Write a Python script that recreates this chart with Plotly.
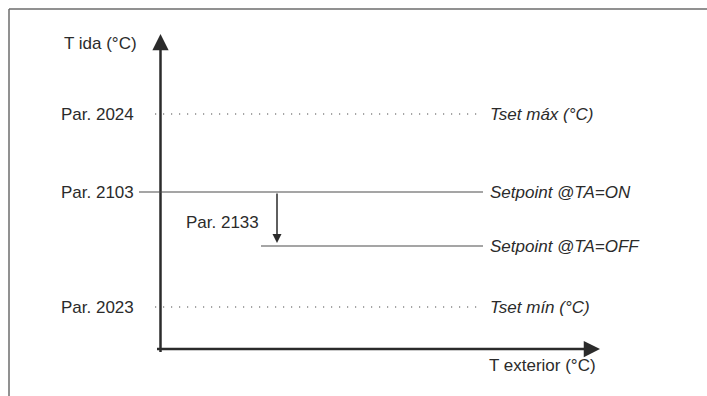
import plotly.graph_objects as go

# schematic levels (origin of the axes = 0,0)
level_names = ["Tset máx (°C)", "Setpoint @TA=ON", "Setpoint @TA=OFF", "Tset mín (°C)"]
level_params = ["Par. 2024", "Par. 2103", "", "Par. 2023"]
level_values = [235, 157, 103, 42]
level_start = [-5.5, -21.5, 100.5, -5.5]
level_end = [322.5, 322.5, 322.5, 322.5]
level_dash = ["1.2px,6.8px", "solid", "solid", "1.2px,6.8px"]

x_axis_end = 439.5
y_axis_end = 315
drop_x = 116.5
drop_label = "Par. 2133"

font_family = "Liberation Sans, Arial, sans-serif"
fsize = 17
ink = "#2b2b2b"
grey = "#4d4d4d"

fig = go.Figure()

# axes
fig.add_trace(go.Scatter(x=[-3.5, x_axis_end - 8], y=[0, 0], mode="lines",
                         line=dict(color=ink, width=2.5), hoverinfo="skip"))
fig.add_trace(go.Scatter(x=[0, 0], y=[-3, y_axis_end - 8], mode="lines",
                         line=dict(color=ink, width=2.5), hoverinfo="skip"))

# level lines
for name, par, v, x0, x1, dash in zip(level_names, level_params, level_values,
                                      level_start, level_end, level_dash):
    fig.add_trace(go.Scatter(x=[x0, x1], y=[v, v], mode="lines",
                             line=dict(color=grey, width=1.2, dash=dash),
                             hoverinfo="skip"))
    fig.add_annotation(x=x1 + 5, y=v, text=name, showarrow=False, xanchor="left",
                       font=dict(family=font_family, size=fsize, color=ink,
                                 style="italic"))
    if par:
        fig.add_annotation(x=-25, y=v, text=par, showarrow=False, xanchor="right",
                           font=dict(family=font_family, size=fsize, color=ink))

# arrowheads of the axes
fig.add_annotation(x=x_axis_end, y=0, ax=x_axis_end - 12, ay=0, axref="x", ayref="y",
                   text="", showarrow=True, arrowhead=2, arrowsize=1.3, arrowwidth=2.5,
                   arrowcolor=ink)
fig.add_annotation(x=0, y=y_axis_end, ax=0, ay=y_axis_end - 12, axref="x", ayref="y",
                   text="", showarrow=True, arrowhead=2, arrowsize=1.3, arrowwidth=2.5,
                   arrowcolor=ink)

# drop arrow between setpoints
fig.add_annotation(x=drop_x, y=level_values[2] + 3, ax=drop_x, ay=level_values[1],
                   axref="x", ayref="y", text="", showarrow=True, arrowhead=2,
                   arrowsize=1.2, arrowwidth=1.5, arrowcolor=ink)
fig.add_annotation(x=23.5, y=127, text=drop_label, showarrow=False, xanchor="left",
                   font=dict(family=font_family, size=fsize, color=ink))

# axis titles
fig.add_annotation(x=-21.5, y=306, text="T ida (°C)", showarrow=False, xanchor="right",
                   font=dict(family=font_family, size=fsize, color=ink))
fig.add_annotation(x=326.5, y=-16, text="T exterior (°C)", showarrow=False, xanchor="left",
                   font=dict(family=font_family, size=fsize, color=ink))

# partial frame (top and left edges)
fig.add_shape(type="line", xref="paper", yref="paper", x0=9 / 707, x1=1.01,
              y0=1 - 9 / 396, y1=1 - 9 / 396, line=dict(color="#6d6d6d", width=1.5))
fig.add_shape(type="line", xref="paper", yref="paper", x0=9 / 707, x1=9 / 707,
              y0=-0.01, y1=1 - 9 / 396, line=dict(color="#6d6d6d", width=1.5))

fig.update_layout(width=707, height=396, margin=dict(l=0, r=0, t=0, b=0),
                  paper_bgcolor="white", plot_bgcolor="white", showlegend=False,
                  xaxis=dict(range=[-160.5, 546.5], visible=False, fixedrange=True),
                  yaxis=dict(range=[-47, 349], visible=False, fixedrange=True))

fig.write_html("out.html", config={"displayModeBar": False},
               post_script="document.body.style.margin='0';")
